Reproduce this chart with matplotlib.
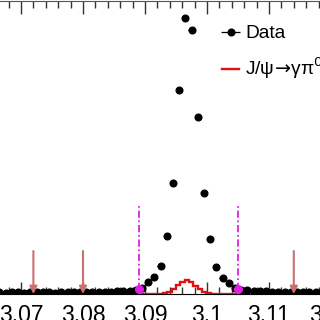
import numpy as np
import matplotlib
matplotlib.use("Agg")
import matplotlib.pyplot as plt
from matplotlib.ticker import MultipleLocator

plt.rcParams['font.family'] = ['Liberation Sans', 'DejaVu Sans']
plt.rcParams['mathtext.fontset'] = 'dejavusans'

# ---- data ----
data_lo = 3.0665          # first bin centre
data_step = 0.001         # bin width
data_counts = [17, 15, 19, 16, 14, 18, 16, 19, 17, 15, 18, 20, 17, 19, 21, 18, 22, 24, 23,
               27, 30, 35, 42, 58, 117, 173, 280, 580, 1107, 2040, 2763, 2640, 1767, 1007,
               547, 273, 157, 113, 62, 45, 38, 33, 29, 26, 24, 22, 20, 21, 18, 19, 17, 18,
               16, 17, 15]
data_x = data_lo + data_step * np.arange(len(data_counts))

mc_lo, mc_hi, mc_step = 3.06, 3.13, 0.0007
mc_first_bin = 47
mc_counts_nonzero = [10, 25, 55, 90, 125, 145, 120, 85, 50, 22, 8]

sideband_arrows = [3.072, 3.080, 3.114, 3.122]
signal_lines = [3.0891, 3.1050]

xticks = [3.06, 3.07, 3.08, 3.09, 3.10, 3.11, 3.12, 3.13]
xticklabels = ["3.06", "3.07", "3.08", "3.09", "3.1", "3.11", "3.12", "3.13"]

legend_data = "Data"
legend_mc = r"J/ψ$\!\rightarrow\!$γπ$^{0}$π$^{0}$"

# ---- figure ----
W = H = 320
fig = plt.figure(figsize=(3.2, 3.2), dpi=100)
ax = fig.add_axes([-41 / W, 26 / H, 434 / W, 293.5 / H])
ax.set_xlim(3.06, 3.13)
ax.set_ylim(0, 2935)

# MC histogram
n_mc = int(round((mc_hi - mc_lo) / mc_step))
mc_edges = mc_lo + mc_step * np.arange(n_mc + 1)
mc_counts = np.zeros(n_mc)
mc_counts[mc_first_bin:mc_first_bin + len(mc_counts_nonzero)] = mc_counts_nonzero
ax.stairs(mc_counts, mc_edges, color='#e01010', lw=1.7, zorder=3, label=legend_mc)

# Data
eb = ax.errorbar(data_x, data_counts, xerr=data_step / 2, fmt='o', color='black',
                 ms=4.8, elinewidth=0.9, capsize=0, zorder=4, label=legend_data)

# signal-region dash-dot lines
for xs in signal_lines:
    ax.plot([xs, xs], [40, 890], color='#e020e0', lw=1.3, ls=(0, (4, 1.5, 1, 1.5)), zorder=5)
    ax.plot([xs], [50], 'o', color='#e020e0', ms=5.5, zorder=6)

# sideband arrows
for xa in sideband_arrows:
    ax.annotate('', xy=(xa, 0), xytext=(xa, 430),
                arrowprops=dict(arrowstyle='-|>', color='#cc6f6f', lw=1.5,
                                mutation_scale=11, shrinkA=0, shrinkB=0), zorder=5)

# axes styling
for s in ['left', 'right']:
    ax.spines[s].set_visible(False)
ax.spines['top'].set_color('#555555')
ax.spines['bottom'].set_color('black')
ax.set_yticks([])
ax.set_xticks(xticks)
ax.set_xticklabels(xticklabels, fontsize=16.5)
ax.xaxis.set_minor_locator(MultipleLocator(0.002))
ax.tick_params(axis='x', which='both', direction='in', top=True, bottom=True,
               color='#333333', width=1.0)
ax.tick_params(axis='x', which='major', length=9, pad=7)
ax.tick_params(axis='x', which='minor', length=5)

handles, labels = ax.get_legend_handles_labels()
order = [labels.index(legend_data), labels.index(legend_mc)]
ax.legend([handles[i] for i in order], [labels[i] for i in order],
          loc='upper left', bbox_to_anchor=(222 / W, 1 - 25 / H),
          bbox_transform=fig.transFigure, frameon=False, fontsize=13.8,
          handlelength=0.9, handletextpad=0.3, labelspacing=0.7,
          borderpad=0, borderaxespad=0)

fig.savefig("out.png", dpi=100)
